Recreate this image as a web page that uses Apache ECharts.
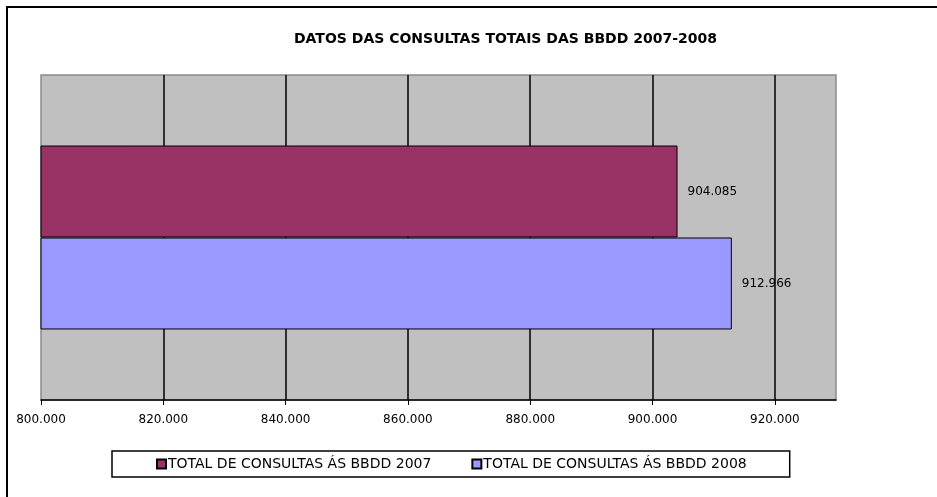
<!DOCTYPE html>
<html><head><meta charset="utf-8">
<script src="https://cdn.jsdelivr.net/npm/echarts@6/dist/echarts.min.js"></script>
<style>html,body{margin:0;padding:0;background:#fff}#c{width:937px;height:497px}</style>
</head><body><div id="c"></div>
<script>
const categories = [''];
const seriesNames = ['TOTAL DE CONSULTAS ÁS BBDD 2007', 'TOTAL DE CONSULTAS ÁS BBDD 2008'];
const values2007 = [904085];
const values2008 = [912966];
const tickValues = [800000, 820000, 840000, 860000, 880000, 900000, 920000];
const axisMin = 800000, axisMax = 930000, axisStep = 20000;

function fmt(v) {
  return String(Math.round(v)).replace(/\B(?=(\d{3})+(?!\d))/g, '.');
}
const FONT = 'DejaVu Sans';
const chart = echarts.init(document.getElementById('c'), null, {renderer: 'canvas'});
chart.setOption({
  animation: false,
  backgroundColor: '#fff',
  title: {
    text: 'DATOS DAS CONSULTAS TOTAIS DAS BBDD 2007-2008',
    left: 289, top: 27,
    textStyle: {fontFamily: FONT, fontWeight: 'bold', fontSize: 14, color: '#000'}
  },
  graphic: [{
    type: 'rect', z: -1, silent: true,
    shape: {x: 7, y: 7, width: 940, height: 500},
    style: {fill: 'none', stroke: '#000', lineWidth: 2}
  }],
  legend: {
    left: 112, top: 451, height: 28,
    padding: [6, 43, 6, 44],
    itemGap: 40,
    backgroundColor: '#fff', borderColor: '#000', borderWidth: 1.5,
    itemWidth: 9, itemHeight: 9, icon: 'rect',
    textStyle: {fontFamily: FONT, fontSize: 14, color: '#000', padding: [0, 0, 0, -3]},
    data: seriesNames
  },
  grid: {
    left: 41, top: 75, width: 795, height: 325,
    show: true, backgroundColor: '#C0C0C0', borderColor: '#8a8a8a', borderWidth: 1.5,
    containLabel: false, outerBoundsMode: 'none'
  },
  xAxis: {
    type: 'value', min: axisMin, max: axisMax, interval: axisStep,
    axisLine: {show: true, lineStyle: {color: '#000', width: 1.5}},
    axisTick: {show: true, length: 5, lineStyle: {color: '#000'}, customValues: tickValues},
    axisLabel: {
      fontFamily: FONT, fontSize: 12, color: '#000', margin: 14,
      customValues: tickValues,
      formatter: v => fmt(v)
    },
    splitLine: {show: true, showMinLine: false, showMaxLine: true, lineStyle: {color: '#000', width: 1.5}}
  },
  yAxis: {
    type: 'category', data: categories, inverse: true,
    axisLine: {show: false}, axisTick: {show: false}, axisLabel: {show: false}
  },
  series: [
    {
      name: seriesNames[0], type: 'bar', data: values2007,
      barGap: '0%', barCategoryGap: '43.4%',
      itemStyle: {color: '#993366', borderColor: '#000', borderWidth: 1},
      label: {show: true, position: 'right', distance: 10, formatter: p => fmt(p.value),
        fontFamily: FONT, fontSize: 12, color: '#000'}
    },
    {
      name: seriesNames[1], type: 'bar', data: values2008,
      barGap: '0%', barCategoryGap: '43.4%',
      itemStyle: {color: '#9999FF', borderColor: '#000', borderWidth: 1},
      label: {show: true, position: 'right', distance: 10, formatter: p => fmt(p.value),
        fontFamily: FONT, fontSize: 12, color: '#000'}
    }
  ]
});
</script></body></html>
